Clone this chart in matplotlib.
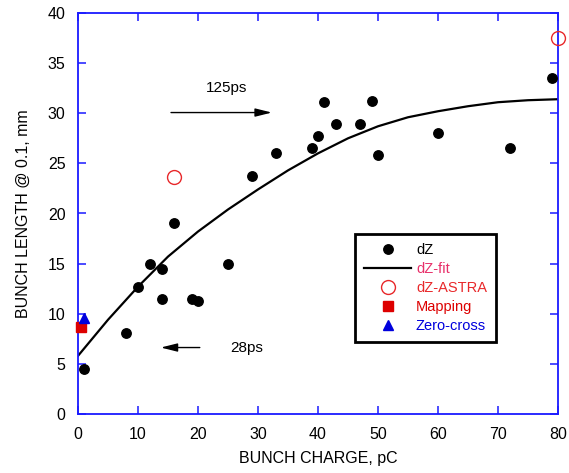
import matplotlib
matplotlib.use("Agg")
import matplotlib.pyplot as plt
from matplotlib.lines import Line2D

plt.rcParams['font.family'] = ['Liberation Sans', 'DejaVu Sans']

# measured bunch length (dZ)
dz_charge = [1, 8, 10, 12, 14, 14, 16, 19, 20, 25, 29, 33, 39, 40, 41, 43, 47, 49, 50, 60, 72, 79]
dz_length = [4.5, 8.1, 12.7, 15.0, 14.5, 11.5, 19.1, 11.5, 11.3, 15.0, 23.7, 26.0, 26.5, 27.7, 31.1, 28.9, 28.9, 31.2, 25.8, 28.0, 26.5, 33.5]

# fit curve
fit_charge = [0, 5, 10, 15, 20, 25, 30, 35, 40, 45, 50, 55, 60, 65, 70, 75, 80]
fit_length = [5.8, 9.4, 12.7, 15.7, 18.2, 20.4, 22.4, 24.3, 26.0, 27.5, 28.7, 29.6, 30.2, 30.7, 31.1, 31.3, 31.4]

# ASTRA simulation
astra_charge = [16, 80]
astra_length = [23.6, 37.5]

# mapping / zero-cross
map_charge = [0.5]
map_length = [8.7]
zc_charge = [1]
zc_length = [9.6]

x_ticks = [0, 10, 20, 30, 40, 50, 60, 70, 80]
y_ticks = [0, 5, 10, 15, 20, 25, 30, 35, 40]

fig = plt.figure(figsize=(5.69, 4.73), dpi=100)
ax = fig.add_axes([78/569, 1 - 414/473, 480/569, 401/473])

spine_color = '#1a1aff'
ax.plot(fit_charge, fit_length, color='black', lw=1.6, zorder=2)
ax.plot(dz_charge, dz_length, 'o', color='black', ms=6.8, zorder=3)
ax.plot(astra_charge, astra_length, 'o', mfc='none', mec='#e8282a', mew=1.0, ms=10, zorder=3, clip_on=False)
ax.plot(map_charge, map_length, 's', color='#dd0000', ms=6.5, zorder=4, clip_on=False)
ax.plot(zc_charge, zc_length, '^', color='#0000dd', ms=6.5, zorder=4, clip_on=False)

ax.set_xlim(0, 80)
ax.set_ylim(0, 40)
ax.set_xticks(x_ticks)
ax.set_yticks(y_ticks)
for s in ax.spines.values():
    s.set_color(spine_color)
    s.set_linewidth(1.3)
ax.tick_params(direction='in', length=6, width=1.1, color=spine_color,
               top=True, right=True, labelsize=11.5, labelcolor='black', pad=9)

ax.set_xlabel('BUNCH CHARGE, pC', fontsize=11.5, labelpad=7)
ax.set_ylabel('BUNCH LENGTH @ 0.1, mm', fontsize=11.5, labelpad=12)

# annotations
arrow_kw = dict(arrowstyle='-|>,head_length=1.0,head_width=0.25', color='black', lw=1.0,
                shrinkA=0, shrinkB=0)
ax.annotate('', xy=(32.3, 30.07), xytext=(15.5, 30.07), arrowprops=arrow_kw)
ax.text(24.7, 32.5, '125ps', fontsize=11, ha='center', va='center')
ax.annotate('', xy=(13.8, 6.63), xytext=(20.3, 6.63), arrowprops=arrow_kw)
ax.text(25.4, 6.63, '28ps', fontsize=11, ha='left', va='center')

handles = [
    Line2D([], [], ls='none', marker='o', color='black', ms=6.8),
    Line2D([], [], color='black', lw=1.6),
    Line2D([], [], ls='none', marker='o', mfc='none', mec='#e8282a', ms=10),
    Line2D([], [], ls='none', marker='s', color='#dd0000', ms=6.5),
    Line2D([], [], ls='none', marker='^', color='#0000dd', ms=6.5),
]
labels = ['dZ', 'dZ-fit', 'dZ-ASTRA', 'Mapping', 'Zero-cross']
colors = ['black', '#e8306a', '#e8282a', '#dd0000', '#0000dd']
leg = ax.legend(handles, labels, loc='upper left', bbox_to_anchor=(0.578, 0.449),
                borderaxespad=0, fontsize=10.5, handlelength=3.2, handletextpad=0.35,
                labelspacing=0.35, borderpad=0.6, fancybox=False, framealpha=1,
                edgecolor='black')
leg.get_frame().set_linewidth(2)
for t, c in zip(leg.get_texts(), colors):
    t.set_color(c)

fig.savefig('out.png', dpi=100)
